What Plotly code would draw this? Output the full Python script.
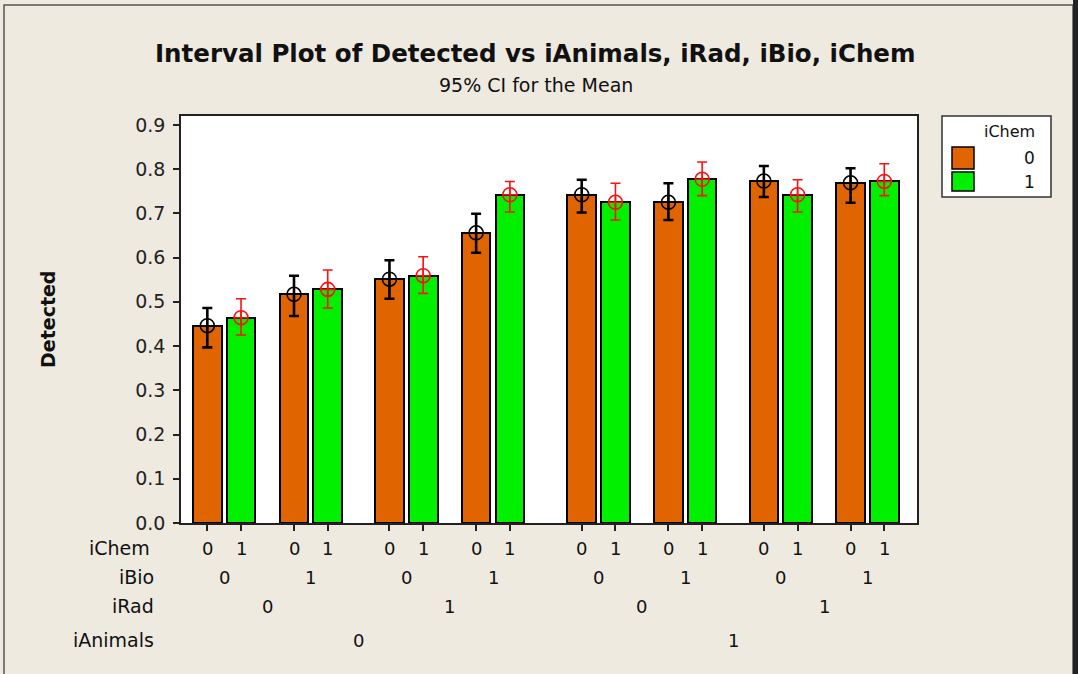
import plotly.graph_objects as go

# Factor levels for the 8 (iAnimals, iRad, iBio) cells, each split by iChem
i_animals = [0, 0, 0, 0, 1, 1, 1, 1]
i_rad = [0, 0, 1, 1, 0, 0, 1, 1]
i_bio = [0, 1, 0, 1, 0, 1, 0, 1]
i_chem_levels = [0, 1]

# Mean of Detected and its 95% CI, iChem = 0
mean_chem0 = [0.446, 0.517, 0.551, 0.656, 0.742, 0.725, 0.773, 0.769]
lo_chem0 = [0.397, 0.468, 0.507, 0.611, 0.702, 0.685, 0.737, 0.724]
hi_chem0 = [0.486, 0.559, 0.594, 0.699, 0.776, 0.768, 0.807, 0.802]

# Mean of Detected and its 95% CI, iChem = 1
mean_chem1 = [0.464, 0.528, 0.559, 0.742, 0.725, 0.777, 0.742, 0.772]
lo_chem1 = [0.425, 0.486, 0.519, 0.703, 0.685, 0.740, 0.703, 0.740]
hi_chem1 = [0.507, 0.572, 0.602, 0.772, 0.768, 0.816, 0.776, 0.812]

y_ticks = [0.0, 0.1, 0.2, 0.3, 0.4, 0.5, 0.6, 0.7, 0.8, 0.9]

# Spacing of the nested category axis (in bar-step units)
STEP_CHEM, STEP_BIO, STEP_RAD, STEP_ANIMALS = 1.0, 2.57, 5.4, 11.1
BAR_WIDTH = 0.85

ORANGE = "#E06400"
GREEN = "#00F000"
BG = "#EEEAE0"
FONT = "DejaVu Sans"

# Plot-area placement in pixels (figure is 1078 x 674)
W, H = 1078, 674
L, R, T, B = 181, 917, 116, 523


def px_x(px):
    return (px - L) / (R - L)


def px_y(py):
    return (B - py) / (B - T)


def pos(a, r, b, c):
    return c * STEP_CHEM + b * STEP_BIO + r * STEP_RAD + a * STEP_ANIMALS


x0 = [pos(a, r, b, 0) for a, r, b in zip(i_animals, i_rad, i_bio)]
x1 = [pos(a, r, b, 1) for a, r, b in zip(i_animals, i_rad, i_bio)]

fig = go.Figure()

for xs, means, color in [(x0, mean_chem0, ORANGE), (x1, mean_chem1, GREEN)]:
    fig.add_trace(go.Bar(
        x=xs, y=means, width=BAR_WIDTH,
        marker=dict(color=color, line=dict(color="black", width=2)),
        showlegend=False, hoverinfo="skip",
    ))

for xs, means, lo, hi, col, thick in [
    (x0, mean_chem0, lo_chem0, hi_chem0, "black", 2.6),
    (x1, mean_chem1, lo_chem1, hi_chem1, "#FF1010", 1.6),
]:
    fig.add_trace(go.Scatter(
        x=xs, y=means, mode="markers",
        marker=dict(symbol="circle-cross-open", size=14, color=col,
                    line=dict(color=col, width=1.6)),
        error_y=dict(type="data", symmetric=False,
                     array=[h - m for h, m in zip(hi, means)],
                     arrayminus=[m - l for m, l in zip(means, lo)],
                     color=col, thickness=thick, width=5),
        showlegend=False, hoverinfo="skip",
    ))

all_x = sorted(x0 + x1)
x_lo = all_x[0] - 0.78
x_hi = all_x[-1] + 0.97

fig.update_layout(
    width=W, height=H,
    margin=dict(l=L, r=W - R, t=T, b=H - B, pad=0),
    paper_bgcolor=BG, plot_bgcolor="white",
    bargap=0, barmode="overlay",
    font=dict(family=FONT, color="#111111"),
    xaxis=dict(range=[x_lo, x_hi], tickvals=all_x, showticklabels=False,
               ticks="outside", ticklen=6, tickwidth=1.5, tickcolor="#222",
               showline=True, linecolor="#222", linewidth=1.5, mirror=True,
               showgrid=False, zeroline=False),
    yaxis=dict(range=[0, 0.92], tickvals=y_ticks, tickformat=".1f",
               ticks="outside", ticklen=6, tickwidth=1.5, tickcolor="#222",
               tickfont=dict(size=19, color="#222"), ticklabelstandoff=4,
               showline=True, linecolor="#222", linewidth=1.5, mirror=True,
               showgrid=False, zeroline=False),
)


def label(x, y, text, size, xref="paper", xanchor="center", bold=False, angle=0):
    return dict(x=x, y=y, xref=xref, yref="paper",
                text=f"<b>{text}</b>" if bold else text,
                xanchor=xanchor, yanchor="middle", textangle=angle,
                showarrow=False, font=dict(size=size, color="#111"))


ann = []
# Titles
ann.append(label(px_x(535), px_y(54),
                 "Interval Plot of Detected vs iAnimals, iRad, iBio, iChem",
                 24.5, bold=True))
ann.append(label(px_x(536), px_y(85), "95% CI for the Mean", 19))
ann.append(label(px_x(48), px_y(320), "Detected", 19, bold=True, angle=-90))

# Nested category labels below the axis
row_y = {"iChem": 548, "iBio": 577, "iRad": 606, "iAnimals": 640}
row_right = {"iChem": 152, "iBio": 156, "iRad": 156, "iAnimals": 156}
for name in row_y:
    ann.append(label(px_x(row_right[name]), px_y(row_y[name]), name, 19,
                     xanchor="right"))

for i in range(len(i_bio)):
    for c, xs in zip(i_chem_levels, (x0, x1)):
        ann.append(label(xs[i], px_y(row_y["iChem"]), str(c), 18, xref="x"))
    ann.append(label((x0[i] + x1[i]) / 2, px_y(row_y["iBio"]), str(i_bio[i]), 18,
                     xref="x"))
for i in range(0, len(i_rad), 2):
    ann.append(label((x0[i] + x1[i + 1]) / 2, px_y(row_y["iRad"]), str(i_rad[i]),
                     18, xref="x"))
for i in range(0, len(i_animals), 4):
    ann.append(label((x0[i] + x1[i + 3]) / 2, px_y(row_y["iAnimals"]),
                     str(i_animals[i]), 18, xref="x"))

# Legend box for iChem
ann.append(label(px_x(1037), px_y(131), "iChem", 16, xanchor="right"))
shapes = [
    dict(type="rect", xref="paper", yref="paper",
         x0=px_x(942), x1=px_x(1051), y0=px_y(197), y1=px_y(116),
         fillcolor="white", line=dict(color="#333", width=1.5)),
]
for c, col, top, bot in [(0, ORANGE, 147, 169), (1, GREEN, 172, 191)]:
    shapes.append(dict(type="rect", xref="paper", yref="paper",
                       x0=px_x(952), x1=px_x(974), y0=px_y(bot), y1=px_y(top),
                       fillcolor=col, line=dict(color="black", width=1.5)))
    ann.append(label(px_x(1037), px_y((top + bot) / 2), str(c), 17,
                     xanchor="right"))

# Outer window frame
shapes.append(dict(type="rect", xref="paper", yref="paper",
                   x0=px_x(4), x1=px_x(1073), y0=px_y(700), y1=px_y(5),
                   line=dict(color="#555", width=1.5), fillcolor="rgba(0,0,0,0)"))
shapes.append(dict(type="rect", xref="paper", yref="paper",
                   x0=px_x(1073), x1=px_x(1080), y0=px_y(700), y1=px_y(0),
                   line=dict(width=0), fillcolor="#222"))

fig.update_layout(annotations=ann, shapes=shapes)

fig.write_html("out.html")
